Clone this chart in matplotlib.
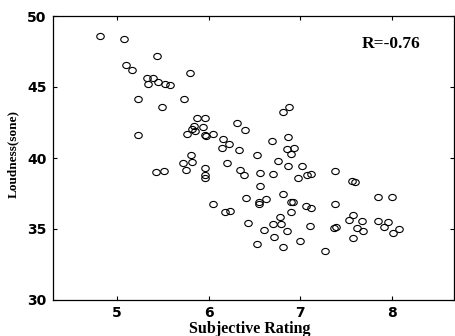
import matplotlib
matplotlib.use("Agg")
import matplotlib.pyplot as plt
from matplotlib.path import Path
from matplotlib.transforms import Affine2D

subjective_rating = [
    4.817, 5.073, 5.441, 5.100, 5.166, 5.797, 5.326, 5.392, 5.338, 5.452,
    5.523, 5.579, 5.231, 5.728, 5.491, 5.868, 5.957, 5.835, 5.941, 5.821,
    5.848, 5.769, 5.963, 5.976, 6.047, 6.305, 6.400, 6.157, 6.225, 6.146,
    6.332, 5.229, 5.812, 6.874, 6.809, 6.533, 6.692, 6.871, 6.860, 6.937,
    6.900, 6.758, 5.721, 5.821, 5.422, 5.512, 5.750, 5.961, 5.961, 5.961,
    6.203, 6.345, 6.385, 6.410, 6.047, 6.176, 6.234, 6.432, 6.871, 7.020,
    6.561, 6.703, 6.976, 7.074, 7.122, 7.384, 7.566, 7.595, 6.561, 6.809,
    6.631, 6.550, 6.550, 6.904, 6.921, 7.068, 7.122, 7.384, 7.849, 7.999,
    6.896, 6.784, 6.700, 6.795, 7.104, 6.609, 6.856, 7.369, 7.388, 7.576,
    7.533, 7.671, 7.620, 7.690, 7.849, 7.963, 7.915, 8.075, 8.017, 7.576,
    6.714, 6.528, 6.812, 6.998, 7.275,
]
loudness = [
    48.61, 48.39, 47.18, 46.55, 46.23, 45.97, 45.62, 45.62, 45.21, 45.34,
    45.20, 45.11, 44.17, 44.15, 43.56, 42.82, 42.82, 42.25, 42.18, 42.04,
    41.90, 41.70, 41.65, 41.55, 41.69, 42.44, 41.96, 41.32, 40.97, 40.72,
    40.54, 41.64, 40.23, 43.59, 43.26, 40.20, 41.20, 41.46, 40.65, 40.67,
    40.26, 39.81, 39.67, 39.72, 39.00, 39.08, 39.14, 39.27, 38.77, 38.56,
    39.63, 39.13, 38.82, 37.20, 36.76, 36.20, 36.27, 35.44, 39.46, 39.46,
    38.96, 38.89, 38.57, 38.80, 38.89, 39.06, 38.40, 38.33, 38.05, 37.46,
    37.13, 36.92, 36.76, 36.90, 36.92, 36.62, 36.48, 36.78, 37.27, 37.27,
    36.20, 35.85, 35.33, 35.33, 35.19, 34.91, 34.88, 35.07, 35.12, 35.96,
    35.61, 35.56, 35.07, 34.86, 35.58, 35.51, 35.14, 35.00, 34.72, 34.39,
    34.42, 33.92, 33.75, 34.13, 33.47,
]
x_ticks = [5, 6, 7, 8]
y_ticks = [30, 35, 40, 45, 50]
annotation = "R=-0.76"

# slightly wide open ellipse marker, like the scanned original
ellipse = Path.unit_circle().transformed(Affine2D().scale(1.22, 1.0))

fig = plt.figure(figsize=(4.55, 3.36), dpi=100)
ax = fig.add_axes([53 / 455, 1 - 300 / 336, 401 / 455, 284 / 336])

ax.plot(subjective_rating, loudness, linestyle="none", marker=ellipse,
        markersize=5.4, markerfacecolor="none", markeredgecolor="black",
        markeredgewidth=0.8)

ax.set_xlim(4.30, 8.68)
ax.set_ylim(30, 50)
ax.set_xticks(x_ticks)
ax.set_yticks(y_ticks)
ax.tick_params(direction="in", length=3, width=0.8, top=True, right=True,
               labelsize=10, pad=4.5)
for lab in ax.get_xticklabels() + ax.get_yticklabels():
    lab.set_fontfamily("DejaVu Sans")
    lab.set_fontweight("bold")
for s in ax.spines.values():
    s.set_linewidth(0.9)
    s.set_color("black")

ax.set_xlabel("Subjective Rating", fontfamily="Liberation Serif",
              fontweight="bold", fontsize=11.5)
ax.xaxis.set_label_coords(0.49, -0.073)
ax.set_ylabel("Loudness(sone)", fontfamily="Liberation Serif",
              fontweight="bold", fontsize=9.5)
ax.yaxis.set_label_coords(-0.085, 0.515)

ax.text(0.842, 0.901, annotation, transform=ax.transAxes, ha="center",
        va="center", fontfamily="Liberation Serif", fontweight="bold",
        fontsize=12.5)

fig.savefig("out.png", dpi=100)
